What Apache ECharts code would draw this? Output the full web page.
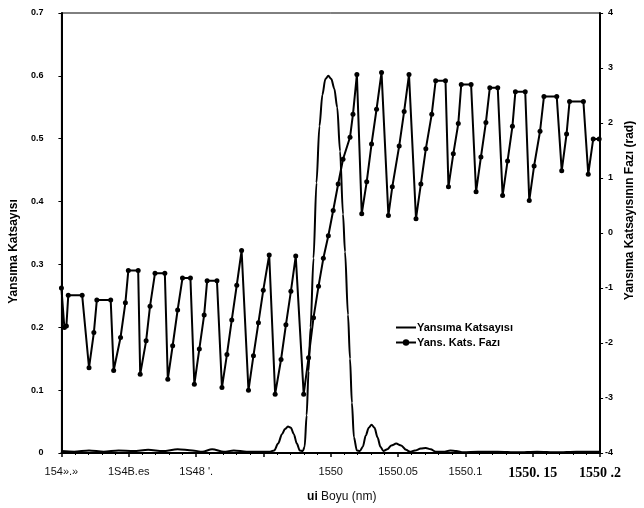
<!DOCTYPE html>
<html>
<head>
<meta charset="utf-8">
<script src="https://cdn.jsdelivr.net/npm/echarts@6/dist/echarts.min.js"></script>
<style>
html,body{margin:0;padding:0;background:#fff;}
#chart{width:644px;height:508px;}
</style>
</head>
<body>
<div id="chart"></div>
<script>
// ---- data ----
const xTickLabels = ["154\u00bb.\u00bb", "1S4B.es", "1S48 '.", "", "1550", "1550.05", "1550.1", "1550. 15", "1550 .2"];
const boldTickIdx = [7, 8];

const reflWavelength = [
  1549.8000, 1549.8095, 1549.8205, 1549.8314, 1549.8424, 1549.8534, 1549.8644, 1549.8753,
  1549.8863, 1549.8973, 1549.9046, 1549.9119, 1549.9207, 1549.9280, 1549.9375, 1549.9470,
  1549.9543, 1549.9580, 1549.9609, 1549.9638, 1549.9660, 1549.9682, 1549.9704, 1549.9726,
  1549.9748, 1549.9770, 1549.9792, 1549.9806, 1549.9821, 1549.9835, 1549.9850, 1549.9872,
  1549.9894, 1549.9916, 1549.9938, 1549.9960, 1549.9982, 1550.0004, 1550.0026, 1550.0048,
  1550.0069, 1550.0091, 1550.0106, 1550.0128, 1550.0143, 1550.0157, 1550.0172, 1550.0194,
  1550.0216, 1550.0238, 1550.0260, 1550.0282, 1550.0303, 1550.0325, 1550.0347, 1550.0369,
  1550.0391, 1550.0420, 1550.0450, 1550.0486, 1550.0523, 1550.0559, 1550.0589, 1550.0625,
  1550.0669, 1550.0706, 1550.0742, 1550.0779, 1550.0837, 1550.0888, 1550.0932, 1550.0984,
  1550.1093, 1550.1240, 1550.1386, 1550.1532, 1550.1678, 1550.1825, 1550.2000
];
const reflectance = [
  0.003, 0.002, 0.004, 0.002, 0.004, 0.003, 0.005, 0.003,
  0.006, 0.004, 0.002, 0.006, 0.002, 0.004, 0.002, 0.002,
  0.002, 0.004, 0.015, 0.030, 0.038, 0.042, 0.040, 0.030,
  0.015, 0.004, 0.003, 0.010, 0.060, 0.130, 0.200, 0.310,
  0.430, 0.520, 0.570, 0.595, 0.600, 0.595, 0.580, 0.550,
  0.480, 0.380, 0.320, 0.220, 0.150, 0.080, 0.025, 0.004,
  0.003, 0.010, 0.028, 0.040, 0.045, 0.040, 0.025, 0.010,
  0.003, 0.006, 0.012, 0.015, 0.012, 0.005, 0.002, 0.004,
  0.007, 0.008, 0.006, 0.002, 0.002, 0.004, 0.003, 0.001,
  0.002, 0.002, 0.001, 0.002, 0.001, 0.002, 0.002
];

const phaseWavelength = [
  1549.8000, 1549.8022, 1549.8037, 1549.8051, 1549.8154, 1549.8205, 1549.8241, 1549.8263,
  1549.8366, 1549.8388, 1549.8439, 1549.8475, 1549.8497, 1549.8570, 1549.8585, 1549.8629,
  1549.8658, 1549.8695, 1549.8768, 1549.8790, 1549.8826, 1549.8863, 1549.8899, 1549.8958,
  1549.8987, 1549.9024, 1549.9060, 1549.9082, 1549.9155, 1549.9192, 1549.9229, 1549.9265,
  1549.9302, 1549.9338, 1549.9389, 1549.9426, 1549.9463, 1549.9499, 1549.9543, 1549.9587,
  1549.9631, 1549.9667, 1549.9704, 1549.9740, 1549.9799, 1549.9835, 1549.9872, 1549.9909,
  1549.9945, 1549.9982, 1550.0018, 1550.0055, 1550.0091, 1550.0143, 1550.0165, 1550.0194,
  1550.0230, 1550.0267, 1550.0303, 1550.0340, 1550.0377, 1550.0428, 1550.0457, 1550.0508,
  1550.0545, 1550.0581, 1550.0633, 1550.0669, 1550.0706, 1550.0750, 1550.0779, 1550.0852,
  1550.0874, 1550.0910, 1550.0947, 1550.0969, 1550.1042, 1550.1079, 1550.1115, 1550.1152,
  1550.1181, 1550.1240, 1550.1276, 1550.1313, 1550.1349, 1550.1371, 1550.1444, 1550.1474,
  1550.1510, 1550.1554, 1550.1583, 1550.1678, 1550.1715, 1550.1751, 1550.1773, 1550.1876,
  1550.1912, 1550.1949, 1550.1993
];
const phase = [
  -1.00, -1.72, -1.69, -1.13, -1.13, -2.45, -1.81, -1.22,
  -1.22, -2.50, -1.90, -1.27, -0.68, -0.68, -2.57, -1.96,
  -1.33, -0.73, -0.73, -2.66, -2.05, -1.40, -0.82, -0.82,
  -2.75, -2.11, -1.49, -0.87, -0.87, -2.81, -2.21, -1.58,
  -0.95, -0.32, -2.86, -2.23, -1.63, -1.04, -0.40, -2.93,
  -2.30, -1.67, -1.06, -0.42, -2.93, -2.27, -1.54, -0.97,
  -0.46, -0.05, 0.41, 0.89, 1.34, 1.74, 2.16, 2.88,
  0.35, 0.93, 1.62, 2.25, 2.92, 0.32, 0.84, 1.58,
  2.21, 2.88, 0.26, 0.89, 1.53, 2.16, 2.77, 2.77,
  0.84, 1.44, 1.99, 2.70, 2.70, 0.75, 1.38, 2.01,
  2.64, 2.64, 0.68, 1.31, 1.94, 2.57, 2.57, 0.59,
  1.22, 1.85, 2.48, 2.48, 1.13, 1.80, 2.39, 2.39,
  1.07, 1.71, 1.71
];

const leftTicks = ["0", "0.1", "0.2", "0.3", "0.4", "0.5", "0.6", "0.7"];
const rightTicks = ["-4", "-3", "-2", "-1", "0", "1", "2", "3", "4"];

const seriesNames = ["Yans\u0131ma Katsay\u0131s\u0131", "Yans. Kats. Faz\u0131"];
const xNameBold = "ui";
const xNameRest = " Boyu (nm)";
const leftName = "Yans\u0131ma Katsay\u0131s\u0131";
const rightName = "Yans\u0131ma Katsay\u0131s\u0131n\u0131n Faz\u0131 (rad)";

// ---- chart ----
const chart = echarts.init(document.getElementById('chart'), null, {renderer: 'canvas'});
const X_MIN = 1549.8, X_STEP = 0.05;
const sans = "'Liberation Sans', Arial, sans-serif";

const option = {
  backgroundColor: '#fff',
  animation: false,
  grid: {left: 57, right: 40, top: 13, bottom: 52, show: true, borderColor: '#000', borderWidth: 1, backgroundColor: 'transparent'},
  legend: {
    orient: 'vertical', left: 390, top: 317, itemWidth: 20, itemHeight: 8, itemGap: 4,
    symbolKeepAspect: true,
    data: [{name: seriesNames[0], icon: 'path://M0,0h20v2h-20z'}, {name: seriesNames[1]}],
    textStyle: {fontFamily: sans, fontWeight: 'bold', fontSize: 11, color: '#000', padding: [0, 0, 0, -4]}
  },
  xAxis: {
    type: 'value', min: X_MIN, max: 1550.2, interval: X_STEP,
    name: '{b|' + xNameBold + '}' + xNameRest, nameLocation: 'middle', nameGap: 38,
    nameTextStyle: {fontFamily: sans, fontSize: 12, color: '#111', padding: [0, 0, 0, 22],
      rich: {b: {fontFamily: sans, fontSize: 12, fontWeight: 'bold', color: '#000'}}},
    axisLine: {show: true, lineStyle: {color: '#000', width: 2}},
    axisTick: {show: true, inside: false, length: 4, lineStyle: {color: '#000', width: 1.5}},
    minorTick: {show: true, splitNumber: 5, length: 2, lineStyle: {color: '#000'}},
    splitLine: {show: false},
    axisLabel: {
      margin: 13, color: '#111', fontFamily: sans, fontSize: 11,
      showMinLabel: true, showMaxLabel: true, hideOverlap: false,
      formatter: function (v) {
        const i = Math.round((v - X_MIN) / X_STEP);
        const t = xTickLabels[i] || '';
        if (boldTickIdx.indexOf(i) >= 0) return '{b|' + t + '}';
        return t;
      },
      rich: {b: {fontFamily: "'Liberation Serif', 'Times New Roman', serif", fontWeight: 'bold', fontSize: 14, color: '#000'}}
    }
  },
  yAxis: [
    {
      type: 'value', min: 0, max: 0.7, interval: 0.1, position: 'left',
      name: leftName, nameLocation: 'middle', nameGap: 36, nameRotate: 90,
      nameTextStyle: {fontFamily: sans, fontWeight: 'bold', fontSize: 12, color: '#000', padding: [0, 37, 0, 0]},
      axisLine: {show: true, lineStyle: {color: '#000', width: 2}},
      axisTick: {show: true, inside: false, length: 3, lineStyle: {color: '#000'}},
      splitLine: {show: false},
      axisLabel: {
        margin: 18, color: '#000', fontFamily: sans, fontWeight: 'bold', fontSize: 9,
        formatter: function (v) { return leftTicks[Math.round(v * 10)]; }
      }
    },
    {
      type: 'value', min: -4, max: 4, interval: 1, position: 'right',
      name: rightName, nameLocation: 'middle', nameGap: 18, nameRotate: 90,
      nameTextStyle: {fontFamily: sans, fontWeight: 'bold', fontSize: 12, color: '#000', padding: [0, 0, 0, 45]},
      axisLine: {show: true, lineStyle: {color: '#000', width: 2}},
      axisTick: {show: true, inside: false, length: 3, lineStyle: {color: '#000'}},
      splitLine: {show: false},
      axisLabel: {
        margin: 13, align: 'right', color: '#000', fontFamily: sans, fontWeight: 'bold', fontSize: 9,
        formatter: function (v) { return rightTicks[Math.round(v + 4)]; }
      }
    }
  ],
  series: [
    {
      name: seriesNames[0], type: 'line', yAxisIndex: 0,
      data: reflWavelength.map((w, i) => [w, reflectance[i]]),
      symbol: 'none', smooth: 0.3, smoothMonotone: 'x',
      lineStyle: {color: '#000', width: 2}, itemStyle: {color: '#000'}
    },
    {
      name: seriesNames[1], type: 'line', yAxisIndex: 1,
      data: phaseWavelength.map((w, i) => [w, phase[i]]),
      symbol: 'circle', symbolSize: 5, showSymbol: true,
      lineStyle: {color: '#000', width: 2}, itemStyle: {color: '#000'}
    }
  ]
};
chart.setOption(option);
</script>
</body>
</html>
